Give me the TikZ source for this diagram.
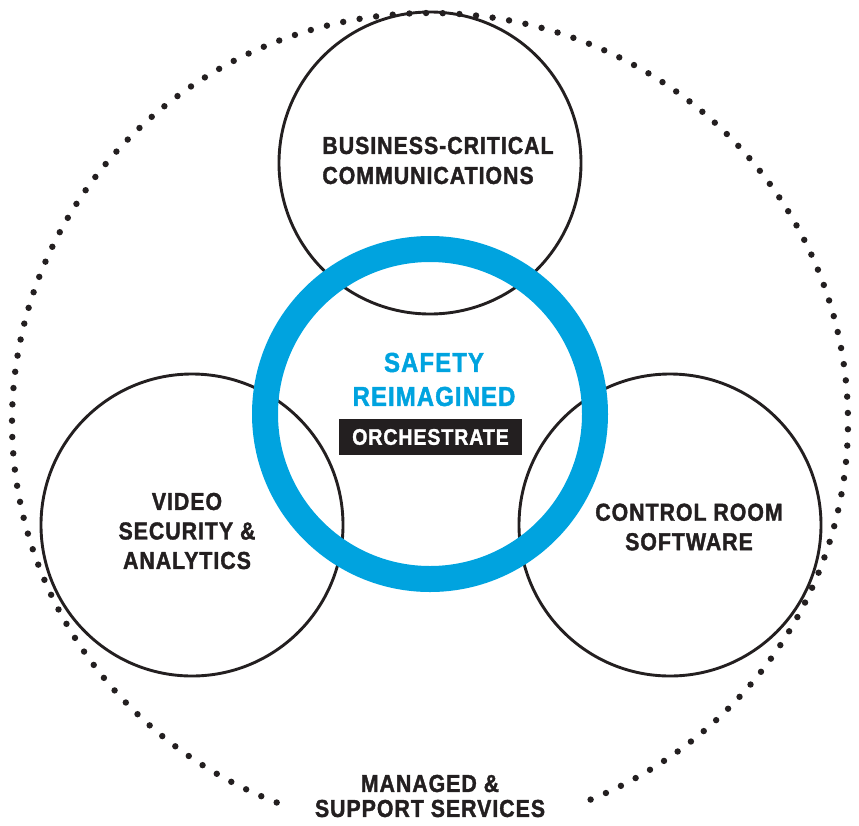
\documentclass[tikz,border=0pt]{standalone}
\usepackage{fontspec}
\setmainfont[FakeStretch=0.87,LetterSpace=4,BoldFeatures={FakeBold=1.5}]{Liberation Sans}
\definecolor{safeblue}{HTML}{00A3DF}
\definecolor{inkblack}{HTML}{231F20}

\begin{document}
\begin{tikzpicture}[x=1pt,y=-1pt]
\tikzstyle{area}=[circle,draw=inkblack,line width=2.9pt,minimum size=302pt,inner sep=0pt]
\tikzstyle{hub}=[circle,draw=safeblue,line width=26pt,minimum size=330pt,inner sep=0pt]
\tikzstyle{caption}=[font=\bfseries\fontsize{24.5}{29.5}\selectfont,text=inkblack,align=center,inner sep=0pt]
\useasboundingbox (0,0) rectangle (859,825);
\foreach \a in {0,...,138}
  \fill[inkblack] ({430+418*cos(-67.4+\a*2.289)},{422-409*sin(-67.4+\a*2.289)}) circle (3.2pt);
\node[area] (comms) at (430,163) {};
\node[area] (video) at (192,525) {};
\node[area] (control) at (670,525) {};
\node[hub] (safety) at (430,414) {};
\node[caption,align=left,font=\bfseries\fontsize{24.5}{30}\selectfont] (commstext) at (438,160.5) {BUSINESS-CRITICAL\\COMMUNICATIONS};
\node[caption] (videotext) at (187,531) {VIDEO\\SECURITY \&\\ANALYTICS};
\node[caption] (controltext) at (689,527) {CONTROL ROOM\\SOFTWARE};
\node[caption,font=\bfseries\fontsize{24.5}{25}\selectfont] (servicestext) at (430,796) {MANAGED \&\\SUPPORT SERVICES};
\node[caption,text=safeblue,font=\bfseries\fontsize{27.5}{34}\selectfont] (safetytext) at (434,379.5) {SAFETY\\REIMAGINED};
\node[fill=inkblack,text=white,minimum width=183pt,minimum height=36pt,inner sep=0pt,font=\bfseries\fontsize{22.5}{22.5}\selectfont] (orchestrate) at (430.5,437) {ORCHESTRATE};
\end{tikzpicture}
\end{document}
